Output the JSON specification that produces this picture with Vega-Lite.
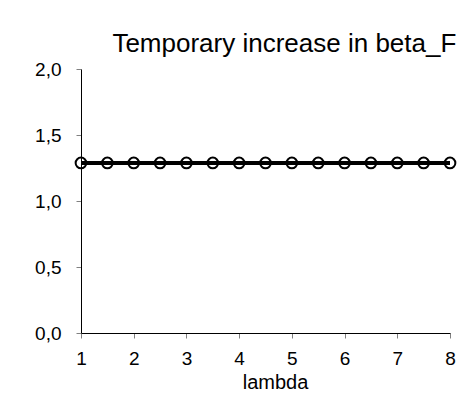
{
  "$schema": "https://vega.github.io/schema/vega-lite/v6.json",
  "width": 369,
  "height": 264,
  "autosize": "none",
  "padding": {"left": 81, "top": 69, "right": 17, "bottom": 73},
  "background": "white",
  "title": {
    "text": "Temporary increase in beta_F",
    "anchor": "end",
    "font": "Liberation Sans",
    "fontSize": 26,
    "fontWeight": "normal",
    "color": "black",
    "offset": 3,
    "dx": -3
  },
  "data": {
    "values": [
      {"lambda": 1.0, "value": 1.288},
      {"lambda": 1.5, "value": 1.288},
      {"lambda": 2.0, "value": 1.288},
      {"lambda": 2.5, "value": 1.288},
      {"lambda": 3.0, "value": 1.288},
      {"lambda": 3.5, "value": 1.288},
      {"lambda": 4.0, "value": 1.288},
      {"lambda": 4.5, "value": 1.288},
      {"lambda": 5.0, "value": 1.288},
      {"lambda": 5.5, "value": 1.288},
      {"lambda": 6.0, "value": 1.288},
      {"lambda": 6.5, "value": 1.288},
      {"lambda": 7.0, "value": 1.288},
      {"lambda": 7.5, "value": 1.288},
      {"lambda": 8.0, "value": 1.288}
    ]
  },
  "encoding": {
    "x": {
      "field": "lambda",
      "type": "quantitative",
      "scale": {"domain": [1, 8], "nice": false, "zero": false},
      "axis": {
        "title": "lambda",
        "values": [1, 2, 3, 4, 5, 6, 7, 8],
        "format": "d",
        "grid": false,
        "domainColor": "black",
        "domainWidth": 1,
        "tickColor": "#808080",
        "tickSize": 5,
        "labelFont": "Liberation Sans",
        "labelFontSize": 19,
        "labelColor": "black",
        "labelPadding": 11,
        "labelFlush": false,
        "titleFont": "Liberation Sans",
        "titleFontSize": 20,
        "titleFontWeight": "normal",
        "titleColor": "black",
        "titlePadding": 4,
        "titleX": 194
      }
    },
    "y": {
      "field": "value",
      "type": "quantitative",
      "scale": {"domain": [0, 2], "nice": false},
      "axis": {
        "title": null,
        "values": [0, 0.5, 1, 1.5, 2],
        "labelExpr": "replace(format(datum.value, '.1f'), '.', ',')",
        "grid": false,
        "domainColor": "black",
        "domainWidth": 1,
        "tickColor": "#808080",
        "tickSize": 5,
        "labelFont": "Liberation Sans",
        "labelFontSize": 19,
        "labelColor": "black",
        "labelPadding": 15,
        "labelFlush": false
      }
    }
  },
  "layer": [
    {"mark": {"type": "line", "color": "black", "strokeWidth": 4}},
    {"mark": {"type": "point", "shape": "circle", "filled": false, "color": "black", "strokeWidth": 2, "size": 115, "opacity": 1}}
  ],
  "config": {"view": {"stroke": null}}
}
